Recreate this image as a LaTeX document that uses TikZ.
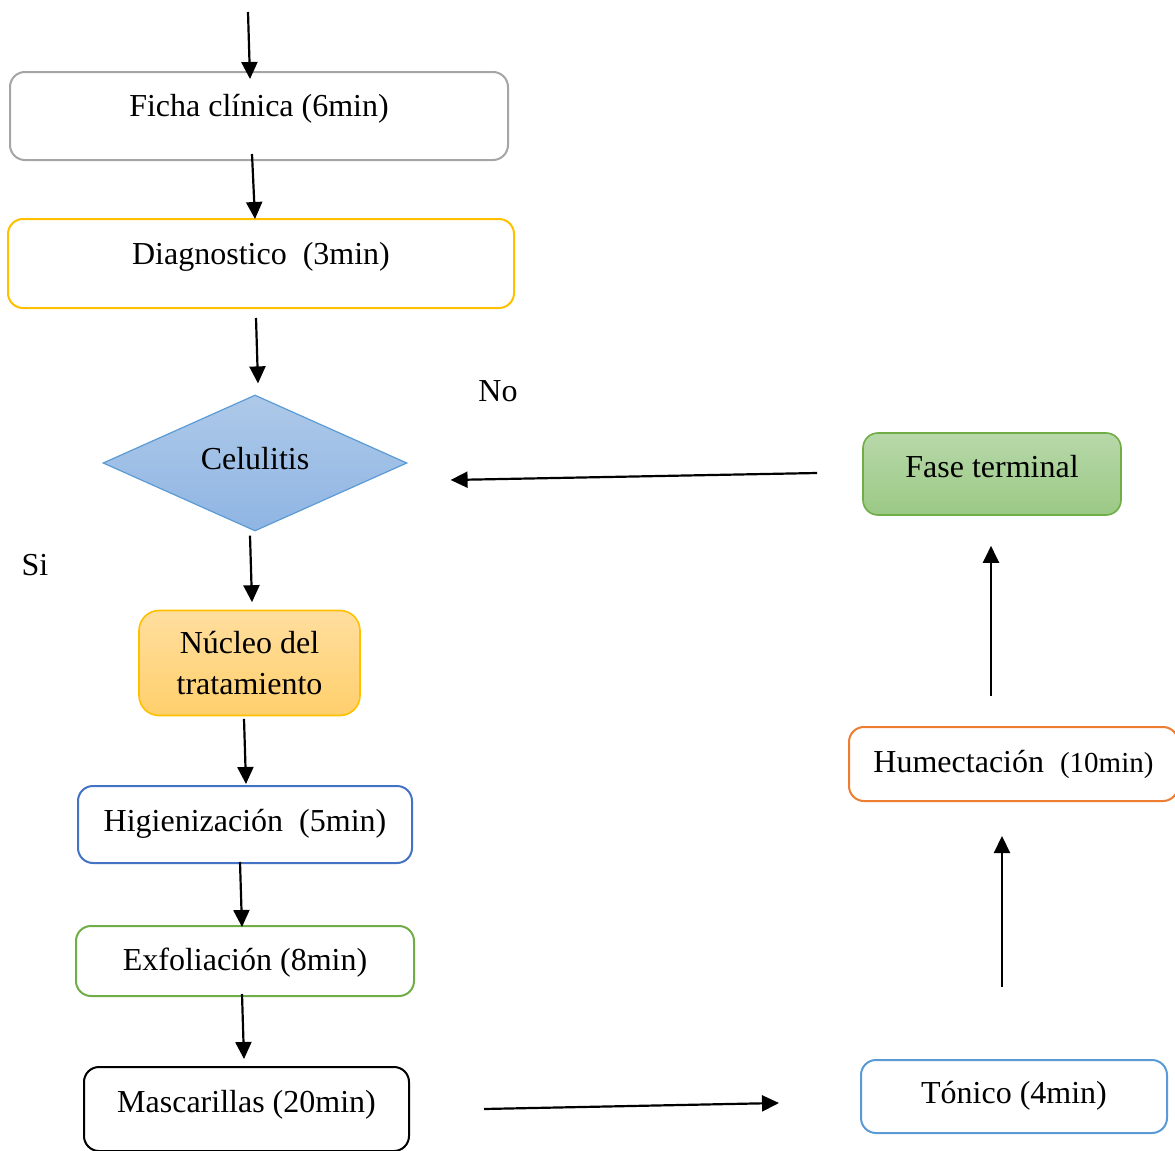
\documentclass[tikz,border=0pt]{standalone}
\usepackage{fontspec}
\setmainfont{Liberation Serif}
\usetikzlibrary{shapes.geometric,arrows.meta}

\definecolor{fichagray}{HTML}{A5A5A5}
\definecolor{diaggold}{HTML}{FFC000}
\definecolor{celblue}{HTML}{5B9BD5}
\definecolor{celtop}{HTML}{AEC9E9}
\definecolor{celbot}{HTML}{8FB5E3}
\definecolor{nuctop}{HTML}{FFDE9E}
\definecolor{nucbot}{HTML}{FFCF6C}
\definecolor{higblue}{HTML}{4472C4}
\definecolor{exfgreen}{HTML}{70AD47}
\definecolor{humorange}{HTML}{ED7D31}
\definecolor{fasetop}{HTML}{B7D8A9}
\definecolor{fasebot}{HTML}{9BC985}

\tikzset{
  box/.style={draw, line width=1pt, rounded corners=7.5pt, inner sep=0pt},
  lift/.style={text height=12pt, text depth=#1},
  flow/.style={-{Triangle[length=8.5pt,width=8pt]}, line width=1.1pt},
}

\begin{document}
\begin{tikzpicture}[x=0.5pt, y=-0.5pt, font=\fontsize{16}{20.5}\selectfont]
    \useasboundingbox (0,0) rectangle (1175,1151);

    % Left column
    \node[box, draw=fichagray, minimum width=249pt, minimum height=44pt, lift=12pt] (ficha) at (259,116) {Ficha clínica (6min)};
    \node[box, draw=diaggold, minimum width=253pt, minimum height=44.5pt, lift=11.5pt] (diag) at (261,263.5) {Diagnostico~ (3min)};
    \node[diamond, shape aspect=2.2, draw=celblue, line width=0.6pt, top color=celtop, bottom color=celbot,
          minimum width=152pt, minimum height=68pt, inner sep=0pt, lift=6pt] (cel) at (255,463) {Celulitis};
    \node[box, draw=diaggold, rounded corners=10pt, line width=0.8pt, top color=nuctop, bottom color=nucbot,
          minimum width=110.5pt, minimum height=52.5pt, align=center] (nucleo) at (249.5,663) {Núcleo del\\tratamiento};
    \node[box, draw=higblue, minimum width=167pt, minimum height=38.5pt, lift=5.5pt] (hig) at (245,824.5) {Higienización~ (5min)};
    \node[box, draw=exfgreen, minimum width=169pt, minimum height=35pt, lift=3pt] (exf) at (245,961) {Exfoliación (8min)};
    \node[box, draw=black, minimum width=162.5pt, minimum height=42pt, lift=9pt] (masc) at (246.5,1109) {Mascarillas (20min)};

    % Right column
    \node[box, draw=celblue, minimum width=153pt, minimum height=36.5pt, lift=5.5pt] (tonico) at (1014,1096.5) {Tónico (4min)};
    \node[box, draw=humorange, minimum width=164.5pt, minimum height=37pt, lift=4pt] (hum) at (1013.5,764) {Humectación~ {\fontsize{14.5}{17}\selectfont(10min)}};
    \node[box, draw=exfgreen, line width=0.8pt, top color=fasetop, bottom color=fasebot,
          minimum width=129pt, minimum height=41pt, lift=9pt] (fase) at (992,474) {Fase terminal};

    % Labels
    \node (no) at (498,391) {No};
    \node (si) at (35,565) {Si};

    % Arrows
    \coordinate (entry) at (248,12);
    \draw[flow] (entry) -- ([shift={(-9,8)}]ficha.north);
    \draw[flow] ([shift={(-7,-7)}]ficha.south) -- ([shift={(-6,1)}]diag.north);
    \draw[flow] ([shift={(-5,9)}]diag.south) -- ([shift={(3,-11)}]cel.north);
    \draw[flow] ([shift={(-5,4)}]cel.south) -- ([shift={(2.5,-7.5)}]nucleo.north);
    \draw[flow] ([shift={(-5.5,2.5)}]nucleo.south) -- ([shift={(1,-1)}]hig.north);
    \draw[flow] ([shift={(-5,-2)}]hig.south) -- ([shift={(-3,2)}]exf.north);
    \draw[flow] ([shift={(-3,-3)}]exf.south) -- ([shift={(-2.5,-7)}]masc.north);
    \draw[flow] ([shift={(74,0)}]masc.east) -- ([shift={(-81,6.5)}]tonico.west);
    \draw[flow] ([shift={(-12,-72)}]tonico.north) -- ([shift={(-11.5,34)}]hum.south);
    \draw[flow] ([shift={(-22.5,-30)}]hum.north) -- ([shift={(-1,30)}]fase.south);
    \draw[flow] ([shift={(-45,-1)}]fase.west) -- ([shift={(43,17)}]cel.east);
\end{tikzpicture}
\end{document}
